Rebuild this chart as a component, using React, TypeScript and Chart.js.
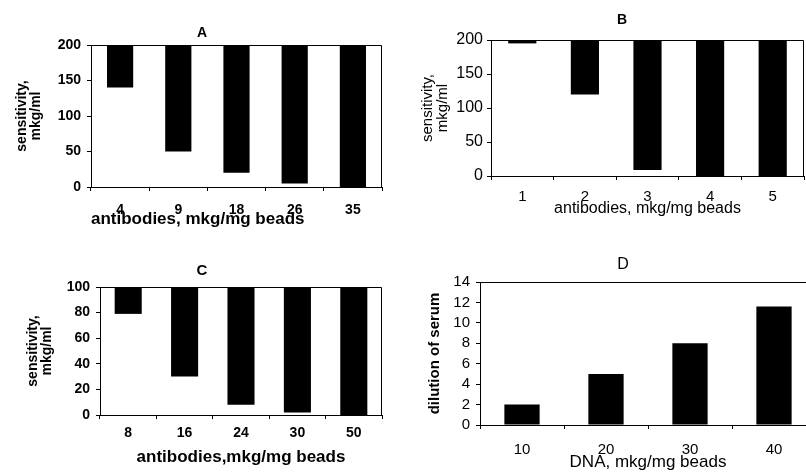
import React, { useEffect, useRef } from 'react';
import { Chart, registerables } from 'chart.js';

Chart.register(...registerables);

const FONT = "'Liberation Sans', Arial, Helvetica, sans-serif";

// Panel A
const antibodiesA = ['4', '9', '18', '26', '35'];
const sensitivityA = [140, 50, 20, 5, 0];
const yMaxA = 200;
const yStepA = 50;

// Panel B
const antibodiesB = ['1', '2', '3', '4', '5'];
const sensitivityB = [195, 120, 9, 0, 0];
const yMaxB = 200;
const yStepB = 50;

// Panel C
const antibodiesC = ['8', '16', '24', '30', '50'];
const sensitivityC = [79, 30, 8, 2, 0];
const yMaxC = 100;
const yStepC = 20;

// Panel D
const dnaD = ['10', '20', '30', '40'];
const dilutionD = [2, 5, 8, 11.6];
const yMaxD = 14;
const yStepD = 2;

type Spec = {
  left: number; top: number; width: number; height: number;
  labels: string[]; values: number[]; base?: number; yMax: number; yStep: number;
  barPct: number;
  padL: number; padR: number;
  title: string; titleSize: number; titleBold: boolean; titlePadTop: number; titlePadBottom: number;
  yWidth: number; yTickSize: number; yTickBold: boolean; yTickPad: number;
  yTitle: string | string[]; yTitleSize: number; yTitleBold: boolean; yTitlePadTop: number;
  xHeight: number; xTickSize: number; xTickBold: boolean; xTickPad: number;
  xTitle: string; xTitleSize: number; xTitleBold: boolean; xTitlePadBottom: number; xTitleAlign: 'start' | 'center' | 'end';
};

const framePlugin = {
  id: 'frame',
  afterDraw(chart: any) {
    const { ctx, chartArea } = chart;
    const l = Math.round(chartArea.left) + 0.5;
    const t = Math.round(chartArea.top) + 0.5;
    const r = Math.round(chartArea.right) - 0.5;
    const b = Math.round(chartArea.bottom) + 0.5;
    ctx.save();
    ctx.strokeStyle = '#000';
    ctx.lineWidth = 1;
    ctx.beginPath();
    ctx.moveTo(l, t);
    ctx.lineTo(r, t);
    ctx.lineTo(r, b);
    ctx.stroke();
    ctx.restore();
  },
};

const fnt = (size: number, bold: boolean, lineHeight = 1.2) => ({
  family: FONT,
  size,
  weight: bold ? 'bold' : 'normal',
  lineHeight,
});

function buildConfig(s: Spec): any {
  return {
    type: 'bar',
    data: {
      labels: s.labels,
      datasets: [
        {
          data: s.values,
          base: s.base,
          backgroundColor: '#000',
          borderWidth: 0,
          barPercentage: s.barPct,
          categoryPercentage: 1,
        },
      ],
    },
    options: {
      responsive: false,
      animation: false,
      devicePixelRatio: 1,
      layout: { padding: { left: s.padL, right: s.padR, top: 0, bottom: 0 } },
      plugins: {
        legend: { display: false },
        tooltip: { enabled: false },
        title: {
          display: true,
          text: s.title,
          color: '#000',
          font: fnt(s.titleSize, s.titleBold),
          padding: { top: s.titlePadTop, bottom: s.titlePadBottom },
        },
      },
      scales: {
        x: {
          type: 'category',
          offset: true,
          grid: {
            offset: true,
            display: true,
            drawOnChartArea: false,
            drawTicks: true,
            tickLength: 4,
            color: '#000',
            lineWidth: 1,
          },
          border: { display: true, color: '#000', width: 1 },
          ticks: {
            color: '#000',
            font: fnt(s.xTickSize, s.xTickBold),
            padding: s.xTickPad,
            maxRotation: 0,
            autoSkip: false,
          },
          title: {
            display: true,
            text: s.xTitle,
            color: '#000',
            align: s.xTitleAlign,
            font: fnt(s.xTitleSize, s.xTitleBold, 1),
            padding: { top: 0, bottom: s.xTitlePadBottom },
          },
          afterFit: (sc: any) => {
            sc.height = s.xHeight;
          },
        },
        y: {
          min: 0,
          max: s.yMax,
          grid: {
            display: true,
            drawOnChartArea: false,
            drawTicks: true,
            tickLength: 4,
            color: '#000',
            lineWidth: 1,
          },
          border: { display: true, color: '#000', width: 1 },
          ticks: {
            stepSize: s.yStep,
            color: '#000',
            font: fnt(s.yTickSize, s.yTickBold, 1),
            padding: s.yTickPad,
            autoSkip: false,
          },
          title: {
            display: true,
            text: s.yTitle,
            color: '#000',
            font: fnt(s.yTitleSize, s.yTitleBold, 1),
            padding: { top: s.yTitlePadTop, bottom: 0 },
          },
          afterFit: (sc: any) => {
            sc.width = s.yWidth;
          },
        },
      },
    },
    plugins: [framePlugin],
  };
}

const specA: Spec = {
  left: 0, top: 0, width: 400, height: 237,
  labels: antibodiesA, values: sensitivityA, base: yMaxA, yMax: yMaxA, yStep: yStepA,
  barPct: 0.45, padL: 22, padR: 18,
  title: 'A', titleSize: 14, titleBold: true, titlePadTop: 24.6, titlePadBottom: 3.6,
  yWidth: 69, yTickSize: 14, yTickBold: true, yTickPad: 6,
  yTitle: ['sensitivity,', 'mkg/ml'], yTitleSize: 14, yTitleBold: true, yTitlePadTop: -7,
  xHeight: 50, xTickSize: 14, xTickBold: true, xTickPad: 11,
  xTitle: 'antibodies, mkg/mg beads', xTitleSize: 17, xTitleBold: true, xTitlePadBottom: 9.5, xTitleAlign: 'start',
};

const specB: Spec = {
  left: 400, top: 0, width: 406, height: 237,
  labels: antibodiesB, values: sensitivityB, base: yMaxB, yMax: yMaxB, yStep: yStepB,
  barPct: 0.45, padL: 40, padR: 2,
  title: 'B', titleSize: 14, titleBold: true, titlePadTop: 11.6, titlePadBottom: 11.6,
  yWidth: 51, yTickSize: 16, yTickBold: false, yTickPad: 4,
  yTitle: ['sensitivity,', 'mkg/ml'], yTitleSize: 15, yTitleBold: false, yTitlePadTop: -19.5,
  xHeight: 61, xTickSize: 15, xTickBold: false, xTickPad: 8,
  xTitle: 'antibodies, mkg/mg beads', xTitleSize: 16, xTitleBold: false, xTitlePadBottom: 20, xTitleAlign: 'center',
};

const specC: Spec = {
  left: 0, top: 237, width: 400, height: 238,
  labels: antibodiesC, values: sensitivityC, base: yMaxC, yMax: yMaxC, yStep: yStepC,
  barPct: 0.48, padL: 22, padR: 18,
  title: 'C', titleSize: 15, titleBold: true, titlePadTop: 25, titlePadBottom: 7,
  yWidth: 78, yTickSize: 14, yTickBold: true, yTickPad: 6,
  yTitle: ['sensitivity,', 'mkg/ml'], yTitleSize: 14, yTitleBold: true, yTitlePadTop: 4,
  xHeight: 60, xTickSize: 14, xTickBold: true, xTickPad: 6,
  xTitle: 'antibodies,mkg/mg beads', xTitleSize: 17, xTitleBold: true, xTitlePadBottom: 9.5, xTitleAlign: 'center',
};

const specD: Spec = {
  left: 400, top: 237, width: 420, height: 238,
  labels: dnaD, values: dilutionD, yMax: yMaxD, yStep: yStepD,
  barPct: 0.42, padL: 30, padR: 4,
  title: 'D', titleSize: 16, titleBold: false, titlePadTop: 18.4, titlePadBottom: 7.4,
  yWidth: 50, yTickSize: 15, yTickBold: false, yTickPad: 6,
  yTitle: 'dilution of serum', yTitleSize: 15, yTitleBold: true, yTitlePadTop: -2.5,
  xHeight: 50, xTickSize: 15, xTickBold: false, xTickPad: 12,
  xTitle: 'DNA, mkg/mg beads', xTitleSize: 17, xTitleBold: false, xTitlePadBottom: 4.5, xTitleAlign: 'center',
};

function Panel({ spec }: { spec: Spec }) {
  const ref = useRef<HTMLCanvasElement | null>(null);
  useEffect(() => {
    if (!ref.current) return;
    const chart = new Chart(ref.current, buildConfig(spec));
    return () => chart.destroy();
  }, [spec]);
  return (
    <canvas
      ref={ref}
      width={spec.width}
      height={spec.height}
      style={{
        position: 'absolute',
        left: spec.left,
        top: spec.top,
        width: spec.width,
        height: spec.height,
        display: 'block',
      }}
    />
  );
}

export default function App() {
  return (
    <div
      style={{
        position: 'absolute',
        left: 0,
        top: 0,
        width: 806,
        height: 475,
        overflow: 'hidden',
        background: '#fff',
      }}
    >
      <Panel spec={specA} />
      <Panel spec={specB} />
      <Panel spec={specC} />
      <Panel spec={specD} />
    </div>
  );
}
